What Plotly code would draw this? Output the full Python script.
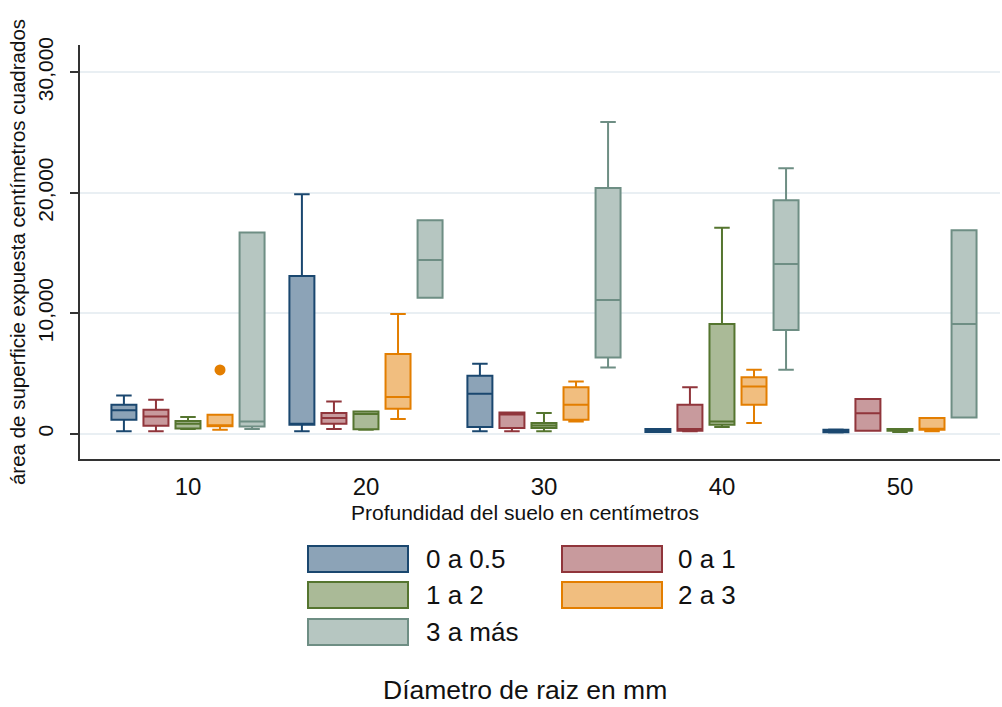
import plotly.graph_objects as go

# Soil depth groups (cm)
depths = [10, 20, 30, 40, 50]

# Root diameter classes
diametros = ["0 a 0.5", "0 a 1", "1 a 2", "2 a 3", "3 a más"]
line_colors = ["#1a476f", "#90353b", "#55752f", "#e37e00", "#6e8e84"]
fill_colors = ["#8ca3b7", "#c89a9d", "#aaba97", "#f1be7f", "#b6c6c1"]

# Box statistics per diameter class, one value per depth (cm²)
lower_05 = [193, 193, 193, 140, 100]
q1_05 = [1160, 745, 552, 150, 120]
med_05 = [1950, 800, 3312, 250, 200]
q3_05 = [2400, 13080, 4802, 380, 330]
upper_05 = [3170, 19870, 5796, 390, 350]

lower_1 = [193, 386, 193, 193, 250]
q1_1 = [662, 828, 469, 250, 250]
med_1 = [1435, 1297, 1600, 400, 1690]
q3_1 = [1987, 1711, 1766, 2401, 2870]
upper_1 = [2815, 2677, 1766, 3864, 2870]

lower_12 = [400, 331, 193, 552, 150]
q1_12 = [430, 360, 469, 745, 250]
med_12 = [830, 1630, 670, 1021, 300]
q3_12 = [1050, 1849, 883, 9108, 400]
upper_12 = [1380, 1849, 1711, 17084, 400]

lower_23 = [331, 1214, 1021, 883, 193]
q1_23 = [620, 2080, 1159, 2401, 331]
med_23 = [650, 3050, 2401, 3919, 380]
q3_23 = [1573, 6624, 3864, 4692, 1297]
upper_23 = [1573, 9936, 4333, 5299, 1297]
outliers_23 = [[5290], [], [], [], []]

lower_3 = [386, 11288, 5492, 5299, 1352]
q1_3 = [607, 11288, 6320, 8611, 1352]
med_3 = [1021, 14407, 11095, 14076, 9108]
q3_3 = [16700, 17719, 20396, 19375, 16891]
upper_3 = [16700, 17719, 25861, 22025, 16891]

stats = [
    (lower_05, q1_05, med_05, q3_05, upper_05, None),
    (lower_1, q1_1, med_1, q3_1, upper_1, None),
    (lower_12, q1_12, med_12, q3_12, upper_12, None),
    (lower_23, q1_23, med_23, q3_23, upper_23, outliers_23),
    (lower_3, q1_3, med_3, q3_3, upper_3, None),
]

FONT = "Liberation Sans, Arial, sans-serif"
TEXT = "#111111"

fig = go.Figure()
for name, lc, fc, (lo, q1, md, q3, hi, pts) in zip(diametros, line_colors, fill_colors, stats):
    kw = dict(
        x=depths, q1=q1, median=md, q3=q3, lowerfence=lo, upperfence=hi,
        name=name, offsetgroup=name, showlegend=False,
        line=dict(color=lc, width=2), fillcolor=fc, whiskerwidth=0.62,
    )
    if pts is not None:
        kw.update(y=pts, boxpoints="outliers", pointpos=0, jitter=0,
                  marker=dict(color=lc, size=11, line=dict(width=0)))
    else:
        kw.update(boxpoints=False)
    fig.add_trace(go.Box(**kw))

# Plot area geometry in pixels (for placing the hand-built legend and titles)
L, R, T, B = 80, 2, 45, 248
W, H = 1002, 707
PW, PH = W - L - R, H - T - B


def px(xp):
    return (xp - L) / PW


def py(yp):
    return (H - B - yp) / PH


# Legend: two columns, big swatches
shapes = []
annotations = []
col_swatch_x = [308, 562]
col_text_x = [424, 676]
row_y = [559, 595, 632]
for i, (name, lc, fc) in enumerate(zip(diametros, line_colors, fill_colors)):
    r, c = divmod(i, 2)
    x0 = col_swatch_x[c]
    yc = row_y[r]
    shapes.append(dict(
        type="rect", xref="paper", yref="paper",
        x0=px(x0), x1=px(x0 + 100), y0=py(yc - 13), y1=py(yc + 13),
        line=dict(color=lc, width=2), fillcolor=fc,
    ))
    annotations.append(dict(
        xref="paper", yref="paper", x=px(col_text_x[c]), y=py(yc),
        xanchor="left", yanchor="middle", text=name, showarrow=False,
        font=dict(family=FONT, size=26, color=TEXT),
    ))

# X axis title, centred under the legend block
annotations.append(dict(
    xref="paper", yref="paper", x=px(525), y=py(512),
    xanchor="center", yanchor="middle", text="Profundidad del suelo en centímetros",
    showarrow=False, font=dict(family=FONT, size=21, color=TEXT),
))

# Legend title
annotations.append(dict(
    xref="paper", yref="paper", x=px(525), y=py(690),
    xanchor="center", yanchor="middle", text="Díametro de raiz en mm",
    showarrow=False, font=dict(family=FONT, size=26.5, color=TEXT),
))

fig.update_layout(
    width=W, height=H,
    margin=dict(l=L, r=R, t=T, b=B, pad=0),
    paper_bgcolor="white", plot_bgcolor="white",
    boxmode="group", boxgap=0.1, boxgroupgap=0.22,
    shapes=shapes, annotations=annotations,
    font=dict(family=FONT, color=TEXT),
    xaxis=dict(
        range=[3.933, 55.62], tickvals=depths, ticktext=[str(d) for d in depths],
        ticks="", showgrid=False, zeroline=False,
        showline=True, linecolor="#333333", linewidth=2,
        tickfont=dict(size=24, color=TEXT), ticklabelstandoff=5,
    ),
    yaxis=dict(
        range=[-2100, 32260], tickvals=[0, 10000, 20000, 30000],
        tickformat=",d", tickangle=-90,
        ticks="outside", ticklen=8, tickcolor="#333333", tickwidth=2,
        showgrid=True, gridcolor="#e9eff3", gridwidth=1.5, zeroline=False,
        showline=True, linecolor="#333333", linewidth=2,
        tickfont=dict(size=21, color=TEXT), ticklabelstandoff=9,
        title=dict(text="área de superficie expuesta centímetros cuadrados",
                   font=dict(size=20.5, color=TEXT), standoff=2),
    ),
)

fig.write_html("out.html")
